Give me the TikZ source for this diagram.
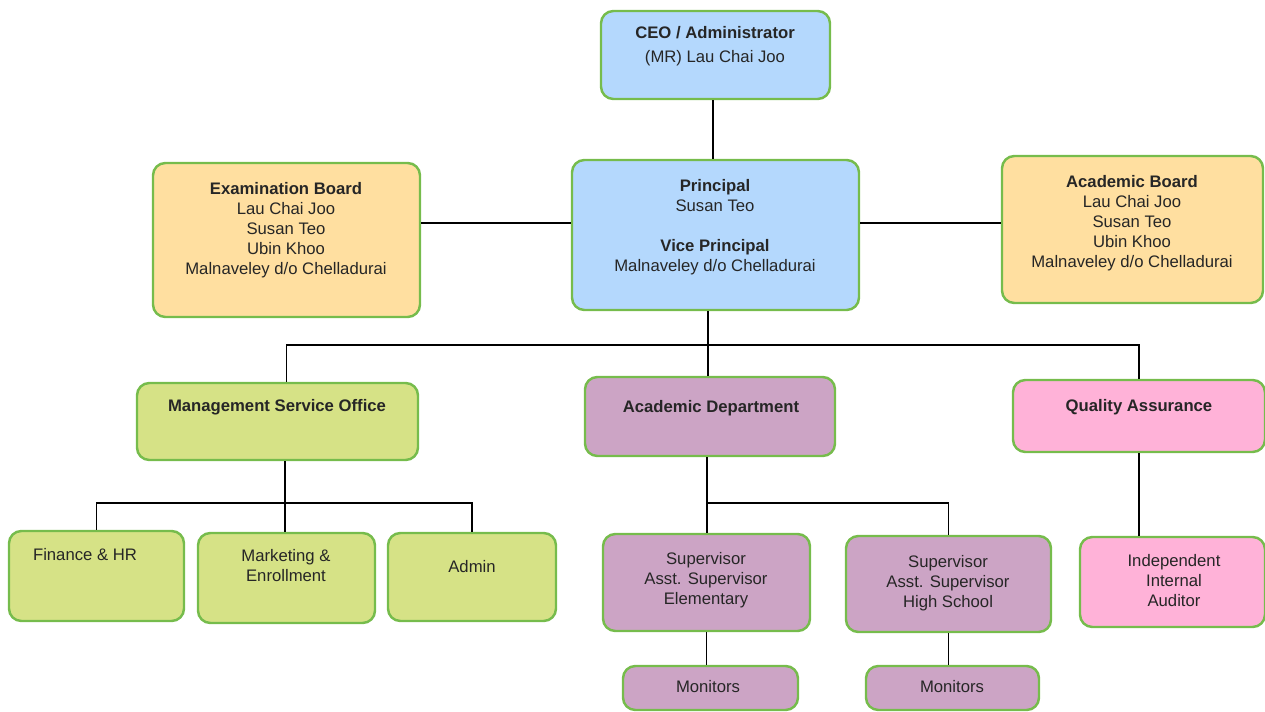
\documentclass[tikz,border=0pt]{standalone}
\usepackage{fontspec}
\setmainfont{Liberation Sans}
\usetikzlibrary{fit,positioning}
\definecolor{skyfill}{RGB}{180,216,253}
\definecolor{peachfill}{RGB}{255,223,160}
\definecolor{limefill}{RGB}{214,226,134}
\definecolor{plumfill}{RGB}{204,164,197}
\definecolor{pinkfill}{RGB}{255,178,216}
\definecolor{boxedge}{RGB}{118,188,76}
\tikzset{box/.style={draw=boxedge, line width=1.4pt, rounded corners=7pt, inner sep=0pt},
         txt/.style={align=center, font=\fontsize{9.5}{11.4}\selectfont, text=black!85},
         wire/.style={line width=1.1pt}}

\begin{document}
\begin{tikzpicture}[x=0.02cm, y=-0.02cm]
\useasboundingbox (0,0) rectangle (1265,712);

% top levels
\node[box, fill=skyfill, fit={(601,11) (830,99)}] (ceo) {};
\node[box, fill=skyfill, fit={(572,160) (859,310)}] (prin) {};
\node[box, fill=peachfill, fit={(153,163) (420,317)}] (exam) {};
\node[box, fill=peachfill, fit={(1002,156) (1263,303)}] (acb) {};

\node[txt] (ceo-t) at (715,46) {\textbf{CEO / Administrator}\\[2pt](MR) Lau Chai Joo};
\node[txt] (prin-t) at (715,227) {\textbf{Principal}\\Susan Teo\\[11.4pt]\textbf{Vice Principal}\\Malnaveley d/o Chelladurai};
\node[txt] (exam-t) at (286,230) {\textbf{Examination Board}\\Lau Chai Joo\\Susan Teo\\Ubin Khoo\\Malnaveley d/o Chelladurai};
\node[txt] (acb-t) at (1132,223) {\textbf{Academic Board}\\Lau Chai Joo\\Susan Teo\\Ubin Khoo\\Malnaveley d/o Chelladurai};

% departments
\node[box, fill=limefill, fit={(137,383) (418,460)}] (mso) {};
\node[box, fill=plumfill, fit={(585,377) (835,456)}] (ad) {};
\node[box, fill=pinkfill, fit={(1013,380) (1265,452)}] (qa) {};

\node[txt] (mso-t) at (277,407) {\textbf{Management Service Office}};
\node[txt] (ad-t) at (711,408) {\textbf{Academic Department}};
\node[txt] (qa-t) at (1139,407) {\textbf{Quality Assurance}};

% units
\node[box, fill=limefill, fit={(9,531) (184,621)}] (fin) {};
\node[box, fill=limefill, fit={(198,533) (375,623)}] (mkt) {};
\node[box, fill=limefill, fit={(388,533) (556,621)}] (adm) {};
\node[box, fill=plumfill, fit={(603,534) (810,631)}] (elem) {};
\node[box, fill=plumfill, fit={(846,536) (1051,632)}] (high) {};
\node[box, fill=pinkfill, fit={(1080,537) (1265,627)}] (aud) {};
\node[box, fill=plumfill, fit={(623,666) (798,710)}] (mon1) {};
\node[box, fill=plumfill, fit={(866,666) (1039,710)}] (mon2) {};

\node[txt] (fin-t) at (85,555) {Finance \& HR};
\node[txt] (mkt-t) at (286,566) {Marketing \&\\Enrollment};
\node[txt] (adm-t) at (472,567) {Admin};
\node[txt] (elem-t) at (706,580) {Supervisor\\Asst. Supervisor\\Elementary};
\node[txt] (high-t) at (948,583) {Supervisor\\Asst. Supervisor\\High School};
\node[txt] (aud-t) at (1174,581) {Independent\\Internal\\Auditor};
\node[txt] (mon1-t) at (708,687) {Monitors};
\node[txt] (mon2-t) at (952,687) {Monitors};

% connectors
\coordinate (sidebus) at (715,223);
\coordinate (topbus) at (708,345);
\coordinate (msobus) at (285,503);
\coordinate (adbus) at (707,503);
\draw[wire] (ceo.south -| 713,0) -- (prin.north -| 713,0);
\draw[wire] (exam.east |- sidebus) -- (prin.west |- sidebus);
\draw[wire] (prin.east |- sidebus) -- (acb.west |- sidebus);
\draw[wire] (prin.south -| topbus) -- (ad.north -| topbus);
\draw[wire] (mkt.north |- mso.north) |- (topbus) -| (qa.north);
\draw[wire] (mso.south -| msobus) -- (mkt.north -| msobus);
\draw[wire] (fin.north) |- (msobus) -| (adm.north);
\draw[wire] (ad.south -| adbus) -- (elem.north -| adbus);
\draw[wire] (adbus) -| (high.north);
\draw[wire] (qa.south) -- (aud.north -| qa.south);
\draw[wire] (elem.south) -- (mon1.north -| elem.south);
\draw[wire] (high.south) -- (mon2.north -| high.south);

\end{tikzpicture}
\end{document}
